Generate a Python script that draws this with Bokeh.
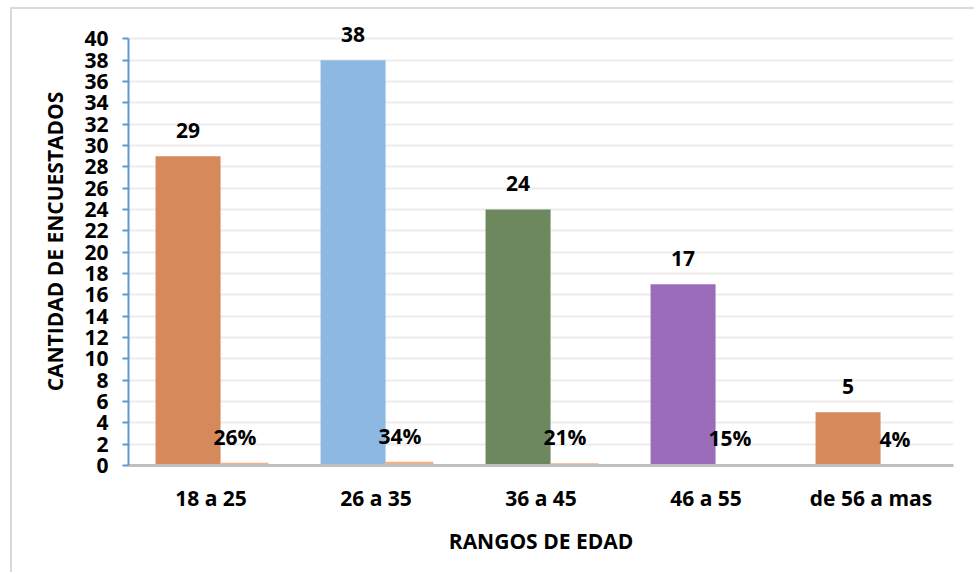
from bokeh.plotting import figure
from bokeh.models import ColumnDataSource, FactorRange, Range1d, FixedTicker
from bokeh.transform import dodge
from bokeh.embed import file_html
from bokeh.resources import INLINE
from bokeh.core.properties import value

categories = ["18 a 25", "26 a 35", "36 a 45", "46 a 55", "de 56 a mas"]
counts = [29, 38, 24, 17, 5]
shares = [0.26, 0.34, 0.21, 0.15, 0.04]
share_labels = ["26%", "34%", "21%", "15%", "4%"]
bar_colors = ["#D6895A", "#8DB8E2", "#6E885E", "#9B6CB9", "#D6895A"]
y_ticks = list(range(0, 41, 2))

FONT = "Open Sans"
FS = "21px"

src = ColumnDataSource(dict(
    cat=categories, counts=counts, shares=shares,
    count_text=[str(c) for c in counts], share_text=share_labels,
    color=bar_colors,
))

p = figure(
    x_range=FactorRange(*categories, range_padding=0),
    y_range=Range1d(0, 42),
    width=964, height=565,
    output_backend="svg", toolbar_location=None,
    min_border_left=116, min_border_right=23,
    min_border_top=8, min_border_bottom=109,
)
p.styles = {
    "margin-left": "10px", "margin-top": "7px",
    "border-left": "2px solid #D9D9D9", "border-top": "2px solid #D9D9D9",
}
p.outline_line_color = None
p.background_fill_color = "white"
p.border_fill_color = "white"

p.vbar(x=dodge("cat", -0.139, range=p.x_range), top="counts", width=0.394,
       source=src, fill_color="color", line_color=None)
p.vbar(x=dodge("cat", 0.203, range=p.x_range), top="shares", width=0.291,
       source=src, fill_color="#F4B183", line_color=None)

p.text(x=dodge("cat", -0.139, range=p.x_range), y="counts", text="count_text",
       source=src, text_align="center", text_baseline="middle", y_offset=-26,
       text_font=value(FONT), text_font_style="bold", text_font_size=FS,
       text_color="black")
p.text(x=dodge("cat", 0.145, range=p.x_range), y="shares", text="share_text",
       source=src, text_align="center", text_baseline="middle", y_offset=-26,
       text_font=value(FONT), text_font_style="bold", text_font_size=FS,
       text_color="black")

# grid
p.xgrid.grid_line_color = None
p.ygrid.ticker = FixedTicker(ticks=y_ticks)
p.ygrid.grid_line_color = "#ECECEC"
p.ygrid.grid_line_width = 2
p.ygrid.bounds = (0, 40)

# y axis
ya = p.yaxis[0]
ya.ticker = FixedTicker(ticks=y_ticks)
ya.bounds = (0, 40)
ya.axis_line_color = "#5B9BD5"
ya.axis_line_width = 2
ya.major_tick_line_color = "#5B9BD5"
ya.major_tick_line_width = 2
ya.major_tick_out = 6
ya.major_tick_in = 0
ya.minor_tick_line_color = None
ya.major_label_standoff = 14
ya.major_label_text_font = FONT
ya.major_label_text_font_style = "bold"
ya.major_label_text_font_size = FS
ya.major_label_text_color = "black"
ya.axis_label = "CANTIDAD DE ENCUESTADOS"
ya.axis_label_text_font = FONT
ya.axis_label_text_font_style = "bold"
ya.axis_label_text_font_size = FS
ya.axis_label_text_color = "black"
ya.axis_label_standoff = 12

# x axis
xa = p.xaxis[0]
xa.axis_line_color = "#BFBFBF"
xa.axis_line_width = 3
xa.major_tick_line_color = None
xa.minor_tick_line_color = None
xa.major_label_standoff = 12
xa.major_label_text_font = FONT
xa.major_label_text_font_style = "bold"
xa.major_label_text_font_size = FS
xa.major_label_text_color = "black"
xa.axis_label = "RANGOS DE EDAD"
xa.axis_label_text_font = FONT
xa.axis_label_text_font_style = "bold"
xa.axis_label_text_font_size = FS
xa.axis_label_text_color = "black"
xa.axis_label_standoff = 12

open("out.html", "w").write(file_html(p, INLINE))
